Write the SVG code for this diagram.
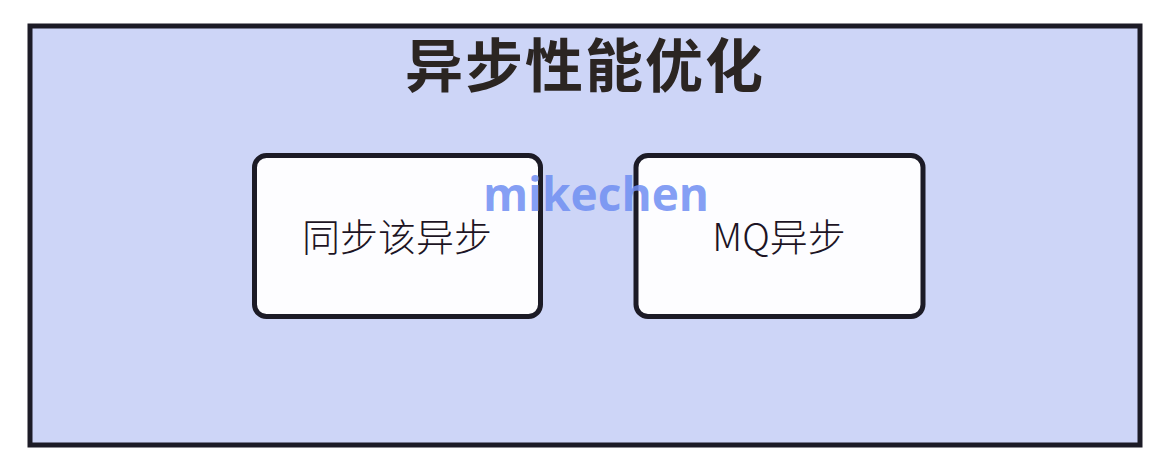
<svg xmlns="http://www.w3.org/2000/svg" width="1170" height="474" viewBox="0 0 1170 474">
<style>
.frame{fill:#cdd5f7;stroke:#1c1b26;stroke-width:5}
.node{fill:#fdfdff;stroke:#1c1b26;stroke-width:5}
.title{font-family:"Noto Sans CJK SC","Noto Sans",sans-serif;font-weight:bold;font-size:58px;letter-spacing:2px;fill:#2b2522;text-anchor:middle}
.label{font-family:"Noto Sans CJK SC","Noto Sans",sans-serif;font-weight:300;font-size:38px;fill:#1c1424;text-anchor:middle}
.wm{font-family:"Open Sans","Noto Sans",sans-serif;font-weight:bold;font-size:46px;fill:#6f8ef2;fill-opacity:0.85;text-anchor:middle}
</style>
<rect width="1170" height="474" fill="#ffffff"/>
<g id="container">
<rect class="frame" x="30" y="26" width="1110" height="419"/>
<text class="title" x="585" y="87">异步性能优化</text>
</g>
<g id="node-sync">
<rect class="node" x="254.5" y="155.5" width="286" height="161" rx="12"/>
<text class="label" x="397" y="251">同步该异步</text>
</g>
<g id="node-mq">
<rect class="node" x="636" y="155.5" width="287" height="161" rx="12"/>
<text class="label" x="779" y="251">MQ异步</text>
</g>
<g id="connectors"></g>
<text class="wm" x="596" y="211">mikechen</text>
</svg>
